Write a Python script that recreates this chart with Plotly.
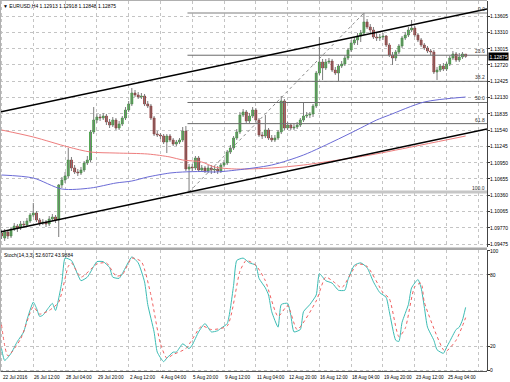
import plotly.graph_objects as go

# ---------------- data ----------------
bars = list(range(147))

open_ = [
 1.09675,1.09585,1.09694,1.09621,1.09748,1.09802,1.09766,1.09838,1.09820,1.09893,
 1.10001,1.10038,1.09911,1.09857,1.09875,1.09838,1.09929,1.09965,1.09911,1.10545,
 1.10635,1.10708,1.10997,1.10853,1.10780,1.10762,1.10816,1.10943,1.10997,1.11505,
 1.11722,1.11776,1.11758,1.11794,1.11686,1.11631,1.11722,1.11577,1.11649,1.11758,
 1.11903,1.12012,1.12211,1.12175,1.12138,1.12156,1.12012,1.11975,1.11758,1.11468,
 1.11450,1.11432,1.11323,1.11432,1.11360,1.11287,1.11323,1.11360,1.11523,1.10834,
 1.10871,1.10853,1.11034,1.10816,1.10853,1.10798,1.10853,1.10816,1.10834,1.10798,
 1.10907,1.10943,1.11142,1.11215,1.11396,1.11505,1.11812,1.11867,1.11704,1.11794,
 1.11903,1.11722,1.11450,1.11432,1.11541,1.11396,1.11360,1.11396,1.11505,1.12066,
 1.11577,1.11631,1.11577,1.11595,1.11631,1.11722,1.11794,1.11812,1.11831,1.11975,
 1.12573,1.12772,1.12664,1.12772,1.12790,1.12627,1.12573,1.12700,1.12736,1.12845,
 1.12990,1.13116,1.13171,1.13243,1.13297,1.13497,1.13406,1.13352,1.13225,1.13207,
 1.13225,1.13243,1.13080,1.12899,1.12845,1.12953,1.13062,1.13207,1.13261,1.13352,
 1.13388,1.13261,1.13171,1.13080,1.13026,1.12971,1.12953,1.12591,1.12627,1.12700,
 1.12645,1.12736,1.12845,1.12917,1.12808,1.12863,1.12913]

high = [
 1.09730,1.09748,1.09730,1.09784,1.09857,1.09838,1.09893,1.09893,1.09947,1.10038,
 1.10219,1.10074,1.09947,1.09929,1.09911,1.09983,1.10020,1.10001,1.10563,1.10690,
 1.10780,1.11215,1.11052,1.10907,1.10834,1.10871,1.10979,1.11070,1.11541,1.11957,
 1.11831,1.11831,1.11849,1.11831,1.11740,1.11776,1.11758,1.11704,1.11794,1.11957,
 1.12066,1.12301,1.12265,1.12229,1.12211,1.12193,1.12066,1.12012,1.11794,1.11523,
 1.11486,1.11468,1.11468,1.11468,1.11396,1.11360,1.11396,1.11595,1.11613,1.10925,
 1.10925,1.11070,1.11070,1.10907,1.10889,1.10907,1.10907,1.10889,1.10889,1.10943,
 1.10997,1.11179,1.11269,1.11432,1.11559,1.11867,1.11921,1.11903,1.11849,1.11957,
 1.11939,1.11758,1.11505,1.11812,1.11577,1.11450,1.11450,1.11541,1.12156,1.12102,
 1.11686,1.11668,1.11649,1.11686,1.11758,1.12030,1.11867,1.11867,1.12012,1.12609,
 1.13225,1.12827,1.12827,1.12845,1.12827,1.12682,1.12736,1.12790,1.12899,1.13026,
 1.13171,1.13225,1.13297,1.13352,1.13660,1.13551,1.13460,1.13406,1.13297,1.13279,
 1.13297,1.13261,1.13116,1.12953,1.12990,1.13098,1.13243,1.13316,1.13406,1.13533,
 1.13424,1.13297,1.13207,1.13116,1.13062,1.13008,1.12990,1.12682,1.12736,1.12754,
 1.12772,1.12881,1.12971,1.12953,1.12935,1.12953,1.12918]

low = [
 1.09567,1.09531,1.09567,1.09585,1.09712,1.09694,1.09730,1.09766,1.09784,1.09857,
 1.09965,1.09875,1.09802,1.09820,1.09784,1.09802,1.09893,1.09857,1.09603,1.10490,
 1.10581,1.10671,1.10798,1.10744,1.10708,1.10726,1.10780,1.10907,1.10961,1.11468,
 1.11668,1.11704,1.11722,1.11631,1.11577,1.11595,1.11541,1.11541,1.11613,1.11722,
 1.11867,1.11975,1.12138,1.12102,1.12102,1.11975,1.11939,1.11722,1.11432,1.11414,
 1.11378,1.11287,1.11124,1.11323,1.11251,1.11251,1.11287,1.11323,1.10798,1.10418,
 1.10798,1.10816,1.10780,1.10780,1.10762,1.10762,1.10744,1.10762,1.10744,1.10762,
 1.10871,1.10907,1.11106,1.11179,1.11360,1.11468,1.11776,1.11668,1.11668,1.11758,
 1.11686,1.11414,1.11378,1.11396,1.11360,1.11323,1.11323,1.11360,1.11468,1.11541,
 1.11541,1.11541,1.11541,1.11559,1.11595,1.11686,1.11758,1.11758,1.11776,1.11939,
 1.12537,1.12446,1.12627,1.12736,1.12591,1.12537,1.12410,1.12664,1.12700,1.12808,
 1.12953,1.13080,1.13080,1.13134,1.13261,1.13370,1.13297,1.13189,1.13153,1.13153,
 1.13171,1.13044,1.12863,1.12718,1.12790,1.12917,1.13026,1.13171,1.13225,1.13316,
 1.13225,1.13134,1.13044,1.12990,1.12935,1.12899,1.12555,1.12446,1.12591,1.12609,
 1.12609,1.12700,1.12808,1.12772,1.12772,1.12827,1.12848]

close = [
 1.09621,1.09694,1.09621,1.09748,1.09802,1.09766,1.09838,1.09820,1.09893,1.10001,
 1.10038,1.09911,1.09857,1.09875,1.09838,1.09929,1.09965,1.09911,1.10545,1.10635,
 1.10708,1.10997,1.10853,1.10780,1.10762,1.10816,1.10943,1.10997,1.11505,1.11722,
 1.11776,1.11758,1.11794,1.11686,1.11631,1.11722,1.11577,1.11649,1.11758,1.11903,
 1.12012,1.12211,1.12175,1.12138,1.12156,1.12012,1.11975,1.11758,1.11468,1.11450,
 1.11432,1.11323,1.11432,1.11360,1.11287,1.11323,1.11360,1.11523,1.10834,1.10871,
 1.10853,1.11034,1.10816,1.10853,1.10798,1.10853,1.10816,1.10834,1.10798,1.10907,
 1.10943,1.11142,1.11215,1.11396,1.11505,1.11812,1.11867,1.11704,1.11794,1.11903,
 1.11722,1.11450,1.11432,1.11541,1.11396,1.11360,1.11396,1.11505,1.12066,1.11577,
 1.11631,1.11577,1.11595,1.11631,1.11722,1.11794,1.11812,1.11831,1.11975,1.12573,
 1.12772,1.12664,1.12772,1.12790,1.12627,1.12573,1.12700,1.12736,1.12845,1.12990,
 1.13116,1.13171,1.13243,1.13297,1.13497,1.13406,1.13352,1.13225,1.13207,1.13225,
 1.13243,1.13080,1.12899,1.12845,1.12953,1.13062,1.13207,1.13261,1.13352,1.13388,
 1.13261,1.13171,1.13080,1.13026,1.12971,1.12953,1.12591,1.12627,1.12700,1.12645,
 1.12736,1.12845,1.12917,1.12808,1.12863,1.12917,1.12875]

ma_blue_x = [0, 10, 19, 28, 36, 41, 46, 53, 57, 63, 67, 74, 85, 95, 106, 113, 118, 122, 133, 146]
ma_blue = [1.10726, 1.10671, 1.10472, 1.10490, 1.10581, 1.10617, 1.10690, 1.10762, 1.10780, 1.10789,
           1.10780, 1.10816, 1.10907, 1.11088, 1.11378, 1.11577, 1.11722, 1.11812, 1.12048, 1.12138]

ma_red_x = [0, 10, 21, 28, 36, 46, 53, 57, 63, 67, 74, 85, 95, 106, 116, 132, 146]
ma_red = [1.11541, 1.11414, 1.11233, 1.11142, 1.11124, 1.11106, 1.11052, 1.10997, 1.10961, 1.10871,
          1.10834, 1.10853, 1.10907, 1.10997, 1.11088, 1.11269, 1.11432]

channel_x = [-0.47, 152.72]
channel_upper = [1.11867, 1.13732]
channel_lower = [1.09694, 1.11559]

fib_start, fib_end = 58.5, 152.72
fib_labels = ["0.0", "23.6", "38.2", "50.0", "61.8", "100.0"]
fib_prices = [1.13660, 1.12895, 1.12422, 1.12039, 1.11656, 1.10418]
fib_diag_x = [59, 114]
fib_diag_y = [1.10418, 1.13660]

price_ticks = [1.13605, 1.13310, 1.13015, 1.12720, 1.12425, 1.12130, 1.11835, 1.11540,
               1.11245, 1.10950, 1.10655, 1.10360, 1.10065, 1.09770, 1.09475]
last_price = 1.12875

time_label_bars = [0, 10, 20, 30, 40, 50, 60, 70, 80, 90, 100, 110, 120, 130, 140]
time_labels = ["22 Jul 2016", "26 Jul 12:00", "28 Jul 04:00", "29 Jul 20:00", "2 Aug 12:00",
               "4 Aug 04:00", "5 Aug 20:00", "9 Aug 12:00", "11 Aug 04:00", "12 Aug 20:00",
               "16 Aug 12:00", "18 Aug 04:00", "19 Aug 20:00", "23 Aug 12:00", "25 Aug 04:00"]

stoch_k_x = [0,1,3,5,7,8,10,11,12,13,15,16,17,19,20,22,24,25,27,29,30,32,34,35,37,38,40,41,43,45,
             46,48,49,51,52,54,55,57,59,60,62,64,66,68,69,71,73,74,76,78,80,81,83,84,85,87,88,90,91,92,
             94,95,97,99,100,102,104,106,108,109,111,113,115,117,119,121,122,124,125,126,128,129,131,132,133,
             134,136,137,139,140,141,143,144,145,146]
stoch_k = [18,8,14,24,32,42,57,52,45,46,53,56,50,74,94,92,80,75,78,87,91,91,86,78,77,81,91,95,90,74,
           55,32,15,7,10,15,15,22,18,21,32,39,32,33,35,39,71,92,94,90,88,77,69,63,49,36,55,56,46,32,
           34,49,55,63,81,75,73,67,67,76,88,90,86,74,65,61,49,25,24,40,55,69,76,69,53,
           36,25,17,14,19,24,34,36,42,52.6072]
stoch_d_x = [0,2,6,10,12,15,18,21,22,25,30,33,36,38,41,44,47,50,52,54,58,63,66,71,75,77,80,83,87,90,
             93,99,102,105,107,112,115,120,122,125,127,130,132,133,139,140,143,145,146]
stoch_d = [38,12,26,53,47,50,57,87,90,78,89,90,79,80,94,91,63,22,10,13,18,37,34,37,83,92,88,75,45,54,
           34,58,78,73,69,89,87,65,60,28,35,70,73,57,17,16,25,37,43.9884]
stoch_ticks = [0, 20, 80, 100]

# ---------------- layout geometry (pixels) ----------------
W, H = 510, 382
PLOT_R = 487
MAIN_TOP, MAIN_BOT = 1, 247
ST_TOP, ST_BOT = 250, 371
X_RANGE = [-0.472, 152.72]
FONT = "Liberation Sans, Arial, sans-serif"


def py(p):
    return 1 - p / H


fig = go.Figure()

# fib levels
for lab, pr in zip(fib_labels, fib_prices):
    if lab == "100.0":
        col, wid = "#c6c6c6", 3
    elif lab == "0.0":
        col, wid = "#a8a8a8", 1.6
    else:
        col, wid = "#6a6a6a", 1
    fig.add_trace(go.Scatter(x=[fib_start, fib_end], y=[pr, pr], mode="lines",
                             line=dict(color=col, width=wid), hoverinfo="skip"))
fig.add_trace(go.Scatter(x=fib_diag_x, y=fib_diag_y, mode="lines",
                         line=dict(color="#8a8a8a", width=1, dash="dot"), hoverinfo="skip"))

# wicks
wx, wy = [], []
for j, h, l in zip(bars, high, low):
    wx += [j, j, None]
    wy += [l, h, None]
fig.add_trace(go.Scatter(x=wx, y=wy, mode="lines", line=dict(color="#7c7c7c", width=1),
                         hoverinfo="skip"))

up = [i for i in range(len(bars)) if close[i] >= open_[i]]
dn = [i for i in range(len(bars)) if close[i] < open_[i]]
fig.add_trace(go.Bar(x=[bars[i] for i in up], base=[open_[i] for i in up],
                     y=[close[i] - open_[i] for i in up], width=0.62,
                     marker=dict(color="#3dc43d", line=dict(color="#1f7f1f", width=0.6))))
fig.add_trace(go.Bar(x=[bars[i] for i in dn], base=[close[i] for i in dn],
                     y=[open_[i] - close[i] for i in dn], width=0.62,
                     marker=dict(color="#b02a2a", line=dict(color="#7a1a1a", width=0.6))))

# moving averages
fig.add_trace(go.Scatter(x=ma_red_x, y=ma_red, mode="lines",
                         line=dict(color="#ee7d7d", width=1, shape="spline", smoothing=0.8)))
fig.add_trace(go.Scatter(x=ma_blue_x, y=ma_blue, mode="lines",
                         line=dict(color="#6b6bd6", width=1, shape="spline", smoothing=0.8)))

# channel
for ys in (channel_upper, channel_lower):
    fig.add_trace(go.Scatter(x=channel_x, y=ys, mode="lines", line=dict(color="black", width=1.6)))

# stochastic
fig.add_trace(go.Scatter(x=stoch_k_x, y=stoch_k, mode="lines", xaxis="x2", yaxis="y2",
                         line=dict(color="#3cbcb4", width=1, shape="spline", smoothing=0.5)))
fig.add_trace(go.Scatter(x=stoch_d_x, y=stoch_d, mode="lines", xaxis="x2", yaxis="y2",
                         line=dict(color="#f06060", width=1, dash="dot", shape="spline", smoothing=0.6)))

grid = dict(showgrid=True, gridcolor="#c4c4c4", griddash="dot", gridwidth=1, zeroline=False)
lab_font = dict(size=5, color="black", family=FONT)

annotations = []
annotations.append(dict(x=2 / W, y=py(1.5), xref="paper", yref="paper", xanchor="left", yanchor="top",
                        text="▼ EURUSD,H4 1.12913 1.12918 1.12848 1.12875", showarrow=False,
                        font=lab_font, borderpad=0))
annotations.append(dict(x=3 / W, y=py(250.5), xref="paper", yref="paper", xanchor="left", yanchor="top",
                        text="Stoch(14,3,3) 52.6072 43.9884", showarrow=False,
                        font=lab_font, borderpad=0))
for lab, pr in zip(fib_labels, fib_prices):
    annotations.append(dict(x=(PLOT_R - 1) / W, y=pr, xref="paper", yref="y", xanchor="right",
                            yanchor="bottom", text=lab, showarrow=False, borderpad=0,
                            font=dict(size=5, color="#303030", family=FONT)))
# price scale labels
for v in price_ticks:
    annotations.append(dict(x=(PLOT_R + 2) / W, y=v, xref="paper", yref="y", xanchor="left",
                            yanchor="middle", text="%.5f" % v, showarrow=False, borderpad=0,
                            font=lab_font))
annotations.append(dict(x=(PLOT_R + 1) / W, y=last_price, xref="paper", yref="y", xanchor="left",
                        yanchor="middle", text="%.5f" % last_price, showarrow=False, bgcolor="black",
                        borderpad=0.6, font=dict(size=5, color="white", family=FONT)))
# stochastic scale labels
for v in stoch_ticks:
    annotations.append(dict(x=(PLOT_R + 2) / W, y=v, xref="paper", yref="y2", xanchor="left",
                            yanchor="middle", text=str(v), showarrow=False, borderpad=0,
                            font=lab_font))
for b, t in zip(time_label_bars, time_labels):
    annotations.append(dict(x=b, y=py(377), xref="x", yref="paper", xanchor="left", yanchor="middle",
                            text=t, showarrow=False, borderpad=0,
                            font=dict(size=4.7, color="black", family=FONT)))

shapes = [
    dict(type="line", xref="paper", yref="paper", x0=0, x1=PLOT_R / W, y0=py(248.7), y1=py(248.7),
         line=dict(color="#a8a8a8", width=2.5)),
    dict(type="line", xref="paper", yref="paper", x0=0, x1=PLOT_R / W, y0=py(0.5), y1=py(0.5),
         line=dict(color="#b0b0b0", width=1)),
    dict(type="line", xref="paper", yref="paper", x0=0, x1=PLOT_R / W, y0=py(371.5), y1=py(371.5),
         line=dict(color="#555555", width=1)),
    dict(type="line", xref="paper", yref="paper", x0=0.5 / W, x1=0.5 / W, y0=py(0), y1=py(372),
         line=dict(color="#b0b0b0", width=1)),
]

fig.update_layout(
    width=W, height=H, margin=dict(l=0, r=0, t=0, b=0),
    paper_bgcolor="white", plot_bgcolor="white", showlegend=False, barmode="overlay",
    font=dict(family=FONT, size=5, color="black"),
    xaxis=dict(domain=[0, PLOT_R / W], range=X_RANGE, anchor="y", tickvals=list(range(0, 151, 10)),
               showticklabels=False, ticks="", **grid),
    xaxis2=dict(domain=[0, PLOT_R / W], range=X_RANGE, anchor="y2", matches="x",
                tickvals=list(range(0, 151, 10)), showticklabels=False, ticks="", **grid),
    yaxis=dict(domain=[py(MAIN_BOT), py(MAIN_TOP)], range=[1.09422, 1.13877], side="right", anchor="x",
               tickvals=price_ticks, showticklabels=False, ticks="outside", ticklen=2,
               tickcolor="#333333", showline=True, linecolor="#444444", linewidth=1, **grid),
    yaxis2=dict(domain=[py(ST_BOT), py(ST_TOP)], range=[-0.84, 100.8], side="right", anchor="x2",
                tickvals=stoch_ticks, showticklabels=False, ticks="outside", ticklen=2,
                tickcolor="#333333", showline=True, linecolor="#444444", linewidth=1, **grid),
    annotations=annotations, shapes=shapes,
)

fig.write_html("out.html", config={"displayModeBar": False},
               post_script="document.body.style.margin='0';document.body.style.overflow='hidden';")
